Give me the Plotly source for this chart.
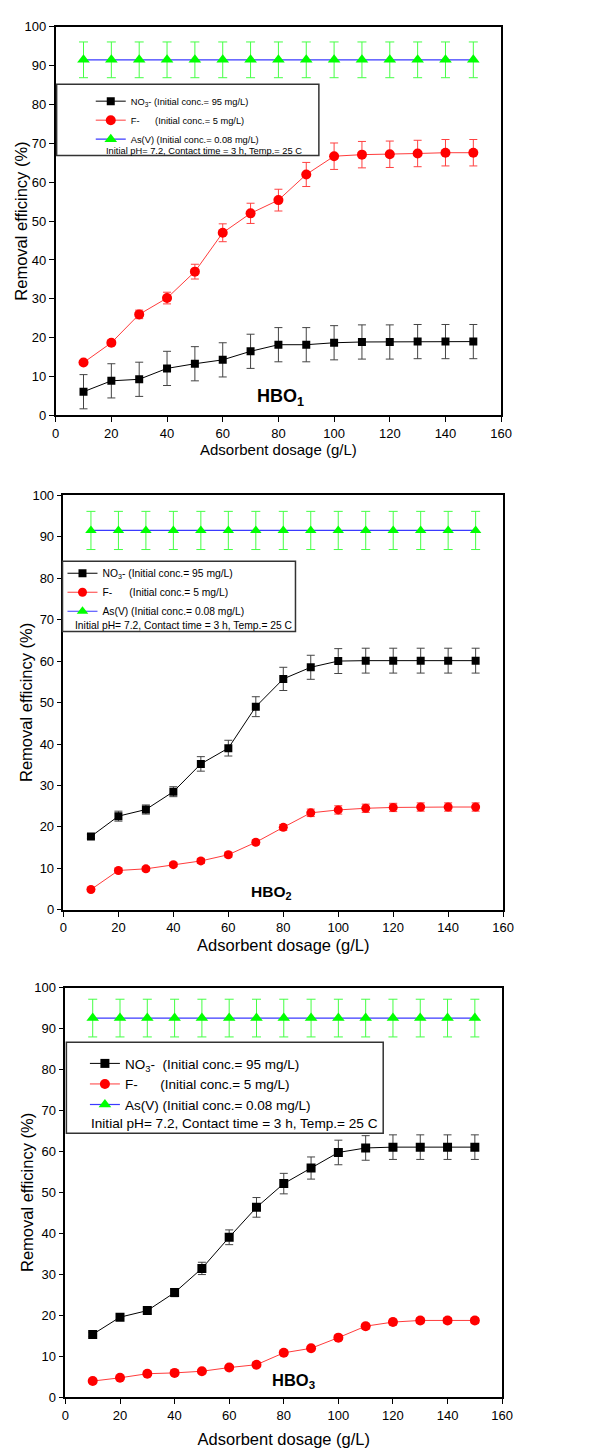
import plotly.graph_objects as go

W, H = 596, 1451
FONT = "Arial, Liberation Sans, sans-serif"

# ---------------- data ----------------
dosage = [10, 20, 30, 40, 50, 60, 70, 80, 90, 100, 110, 120, 130, 140, 150]

# HBO1
hbo1_no3 = [6.1, 8.9, 9.3, 12.1, 13.3, 14.3, 16.5, 18.2, 18.2, 18.7, 18.9, 18.9, 19.0, 19.0, 19.0]
hbo1_no3_err = [4.4, 4.4, 4.4, 4.4, 4.4, 4.4, 4.4, 4.4, 4.4, 4.4, 4.4, 4.4, 4.4, 4.4, 4.4]
hbo1_f = [13.6, 18.7, 26.0, 30.2, 37.0, 47.0, 52.0, 55.4, 62.0, 66.7, 67.1, 67.2, 67.4, 67.6, 67.6]
hbo1_f_err = [0.5, 0.6, 1.1, 1.5, 1.9, 2.3, 2.6, 2.8, 3.1, 3.4, 3.4, 3.4, 3.4, 3.4, 3.4]
hbo1_as = [91.5] * 15
hbo1_as_err = [4.6] * 15

# HBO2
hbo2_no3 = [17.7, 22.6, 24.2, 28.5, 35.2, 39.0, 49.0, 55.7, 58.5, 60.0, 60.1, 60.1, 60.1, 60.1, 60.1]
hbo2_no3_err = [0.5, 1.2, 1.1, 1.2, 1.75, 1.9, 2.4, 2.8, 2.9, 3.0, 3.0, 3.0, 3.0, 3.0, 3.0]
hbo2_f = [4.9, 9.5, 9.9, 10.9, 11.8, 13.3, 16.3, 19.9, 23.4, 24.1, 24.5, 24.7, 24.8, 24.8, 24.8]
hbo2_f_err = [0.4, 0.5, 0.5, 0.5, 0.6, 0.6, 0.6, 0.7, 0.9, 1.0, 1.0, 1.0, 1.0, 1.0, 1.0]
hbo2_as = [91.5] * 15
hbo2_as_err = [4.6] * 15

# HBO3
hbo3_no3 = [15.4, 19.6, 21.2, 25.6, 31.5, 39.1, 46.4, 52.2, 56.0, 59.8, 60.9, 61.1, 61.1, 61.1, 61.1]
hbo3_no3_err = [0.5, 0.6, 0.7, 1.0, 1.5, 1.8, 2.4, 2.5, 2.7, 3.0, 3.0, 3.0, 3.0, 3.0, 3.0]
hbo3_f = [4.0, 4.8, 5.8, 6.0, 6.4, 7.3, 8.0, 10.9, 12.0, 14.6, 17.4, 18.4, 18.8, 18.8, 18.8]
hbo3_f_err = [0.4, 0.4, 0.4, 0.4, 0.4, 0.4, 0.5, 0.5, 0.5, 0.6, 0.7, 0.7, 0.7, 0.7, 0.7]
hbo3_as = [92.6] * 15
hbo3_as_err = [4.6] * 15

names = ["NO<sub>3</sub>-\u00a0(Initial conc.= 95 mg/L)",
         "F-\u00a0\u00a0\u00a0\u00a0\u00a0\u00a0(Initial conc.= 5 mg/L)",
         "As(V) (Initial conc.= 0.08 mg/L)"]
names3 = ["NO<sub>3</sub>-\u00a0\u00a0(Initial conc.= 95 mg/L)",
          "F-\u00a0\u00a0\u00a0\u00a0\u00a0\u00a0(Initial conc.= 5 mg/L)",
          "As(V) (Initial conc.= 0.08 mg/L)"]
info_text = "Initial pH= 7.2, Contact time = 3 h, Temp.= 25 C"
panel_labels = ["HBO<sub>1</sub>", "HBO<sub>2</sub>", "HBO<sub>3</sub>"]
x_title = "Adsorbent dosage (g/L)"
y_title = "Removal efficincy (%)"
x_ticks = [0, 20, 40, 60, 80, 100, 120, 140, 160]
y_ticks = [0, 10, 20, 30, 40, 50, 60, 70, 80, 90, 100]

# ---------------- layout geometry (pixels) ----------------
def fx(px):
    return px / W

def fy(py):
    return 1 - py / H

panels = [
    dict(no3=hbo1_no3, no3e=hbo1_no3_err, f=hbo1_f, fe=hbo1_f_err, a=hbo1_as, ae=hbo1_as_err,
         box=(53, 510, 20, 412.7), names=names, lfont=9.3, leg_left=89, leg_top=80.5,
         lbox=(54, 323, 78, 150), info=(205, 145, 9.3), ms=(8, 10, 11),
         lab=(80.7, 4.6, 18), xt=15, xstand=1, yt=(18, 16.5)),
    dict(no3=hbo2_no3, no3e=hbo2_no3_err, f=hbo2_f, fe=hbo2_f_err, a=hbo2_as, ae=hbo2_as_err,
         box=(61, 512, 493.3, 912.3), names=names, lfont=10.3, leg_left=60, leg_top=557.5,
         lbox=(60, 299, 560, 631), info=(185, 624.5, 10.3), ms=(8, 9, 10),
         lab=(75.4, 4.1, 15.5), xt=16.5, xstand=5, yt=(22, 16.5)),
    dict(no3=hbo3_no3, no3e=hbo3_no3_err, f=hbo3_f, fe=hbo3_f_err, a=hbo3_as, ae=hbo3_as_err,
         box=(63, 511, 991, 1405), names=names3, lfont=13.5, leg_left=83, leg_top=1052,
         lbox=(64, 389, 1046, 1138), info=(236, 1128.5, 13.6), ms=(9, 10, 11),
         lab=(83.6, 4.1, 16.5), xt=16.5, xstand=12, yt=(23, 16.5)),
]

fig = go.Figure()
shapes = []
annotations = []

for i, p in enumerate(panels, start=1):
    sfx = "" if i == 1 else str(i)
    xa, ya = "x" + sfx, "y" + sfx
    leg = "legend" + sfx
    ms_sq, ms_ci, ms_tr = p["ms"]

    fig.add_trace(go.Scatter(
        x=dosage, y=p["no3"], name=p["names"][0], xaxis=xa, yaxis=ya, legend=leg,
        mode="lines+markers",
        line=dict(color="#000000", width=1),
        marker=dict(symbol="square", size=ms_sq, color="#000000"),
        error_y=dict(type="data", array=p["no3e"], color="#444444", thickness=1, width=4),
    ))
    fig.add_trace(go.Scatter(
        x=dosage, y=p["f"], name=p["names"][1], xaxis=xa, yaxis=ya, legend=leg,
        mode="lines+markers",
        line=dict(color="#ff3b3b", width=1),
        marker=dict(symbol="circle", size=ms_ci, color="#ff0000"),
        error_y=dict(type="data", array=p["fe"], color="#ff4040", thickness=1, width=4),
    ))
    fig.add_trace(go.Scatter(
        x=dosage, y=p["a"], name=p["names"][2], xaxis=xa, yaxis=ya, legend=leg,
        mode="lines+markers",
        line=dict(color="#3a3aff", width=1.2),
        marker=dict(symbol="triangle-up", size=ms_tr, color="#00ff00"),
        error_y=dict(type="data", array=p["ae"], color="#44ff44", thickness=1, width=4.5),
    ))

    x0, x1, y0, y1 = p["box"]
    axis_common = dict(showgrid=False, zeroline=False, showline=True, linecolor="#000000",
                       linewidth=1.5, mirror=True, ticks="outside", ticklen=5, tickwidth=1.2,
                       tickcolor="#000000", tickfont=dict(family=FONT, size=13, color="#000000"))
    fig.update_layout(**{
        "xaxis" + sfx: dict(domain=[fx(x0), fx(x1)], range=[0, 160], tickvals=x_ticks,
                            anchor=ya,
                            title=dict(text=x_title, standoff=p["xstand"],
                                       font=dict(family=FONT, size=p["xt"], color="#000000")),
                            **axis_common),
        "yaxis" + sfx: dict(domain=[fy(y1), fy(y0)], range=[0, 100], tickvals=y_ticks,
                            anchor=xa, **axis_common),
        leg: dict(x=fx(p["leg_left"]), y=fy(p["leg_top"]), xanchor="left", yanchor="top",
                  bgcolor="rgba(0,0,0,0)", borderwidth=0,
                  font=dict(family=FONT, size=p["lfont"], color="#000000"),
                  tracegroupgap=0),
    })

    # y-axis title (placed as rotated text, close to the tick labels like the original)
    ytx, ytsz = p["yt"]
    annotations.append(dict(text=y_title, xref="paper", yref="paper",
                            x=fx(ytx), y=fy((y0 + y1) / 2), textangle=-90,
                            xanchor="center", yanchor="middle", showarrow=False,
                            font=dict(family=FONT, size=ytsz, color="#000000")))

    lx0, lx1, ly0, ly1 = p["lbox"]
    shapes.append(dict(type="rect", xref="paper", yref="paper",
                       x0=fx(lx0), x1=fx(lx1), y0=fy(ly1), y1=fy(ly0),
                       line=dict(color="#333333", width=1.5), fillcolor="rgba(0,0,0,0)"))
    ix, iy, isz = p["info"]
    annotations.append(dict(text=info_text, xref="paper", yref="paper", x=fx(ix), y=fy(iy),
                            xanchor="center", yanchor="middle", showarrow=False,
                            font=dict(family=FONT, size=isz, color="#000000")))
    lx, ly, lsz = p["lab"]
    annotations.append(dict(text="<b>" + panel_labels[i - 1] + "</b>", xref=xa, yref=ya,
                            x=lx, y=ly, xanchor="center", yanchor="middle", showarrow=False,
                            font=dict(family=FONT, size=lsz, color="#000000")))

fig.update_layout(
    width=W, height=H,
    margin=dict(l=0, r=0, t=0, b=0),
    paper_bgcolor="white", plot_bgcolor="white",
    shapes=shapes, annotations=annotations,
    font=dict(family=FONT, color="#000000"),
)

fig.write_html("out.html")
